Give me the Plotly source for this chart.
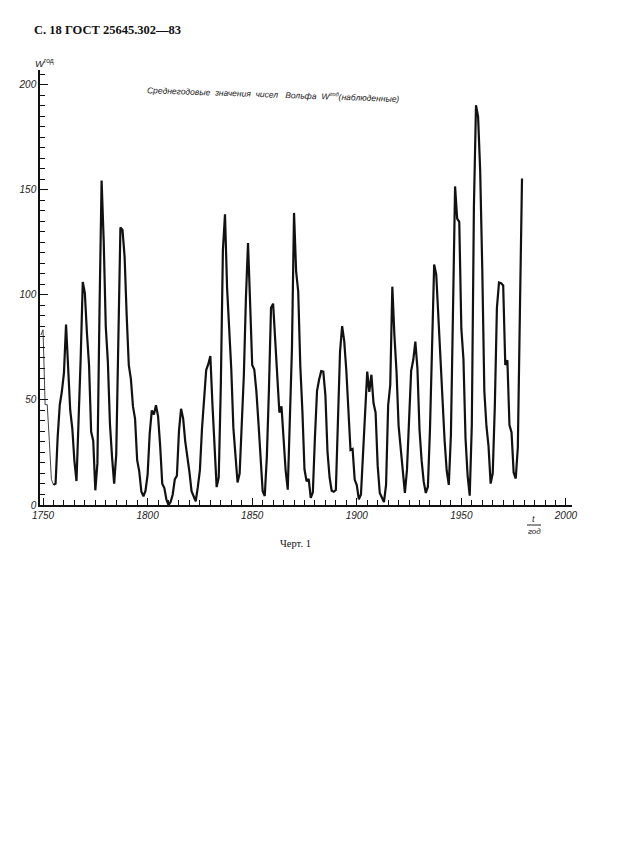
import plotly.graph_objects as go

start_year = 1749
wolf = [
    80.9, 83.4, 47.7, 47.8, 30.7, 12.2, 9.6, 10.2, 32.4, 47.6,   # 1749-1758
    54.0, 62.9, 85.9, 61.2, 45.1, 36.4, 20.9, 11.4, 37.8, 69.8,  # 1759-1768
    106.1, 100.8, 81.6, 66.5, 34.8, 30.6, 7.0, 19.8, 92.5, 154.4,  # 1769-1778
    125.9, 84.8, 68.1, 38.5, 22.8, 10.2, 24.1, 82.9, 132.0, 130.9,  # 1779-1788
    118.1, 89.9, 66.6, 60.0, 46.9, 41.0, 21.3, 16.0, 6.4, 4.1,   # 1789-1798
    6.8, 14.5, 34.0, 45.0, 43.1, 47.5, 42.2, 28.1, 10.1, 8.1,    # 1799-1808
    2.5, 0.0, 1.4, 5.0, 12.2, 13.9, 35.4, 45.8, 41.1, 30.1,      # 1809-1818
    23.9, 15.6, 6.6, 4.0, 1.8, 8.5, 16.6, 36.3, 49.6, 64.2,      # 1819-1828
    67.0, 70.9, 47.8, 27.5, 8.5, 13.2, 56.9, 121.5, 138.3, 103.2,  # 1829-1838
    85.7, 64.6, 36.7, 24.2, 10.7, 15.0, 40.1, 61.5, 98.5, 124.7,  # 1839-1848
    96.3, 66.6, 64.5, 54.1, 39.0, 20.6, 6.7, 4.3, 22.7, 54.8,    # 1849-1858
    93.8, 95.8, 77.2, 59.1, 44.0, 47.0, 30.5, 16.3, 7.3, 37.6,   # 1859-1868
    74.0, 139.0, 111.2, 101.6, 66.2, 44.7, 17.0, 11.3, 12.4, 3.4,  # 1869-1878
    6.0, 32.3, 54.3, 59.7, 63.7, 63.5, 52.2, 25.4, 13.1, 6.8,    # 1879-1888
    6.3, 7.1, 35.6, 73.0, 85.1, 78.0, 64.0, 41.8, 26.2, 26.7,    # 1889-1898
    12.1, 9.5, 2.7, 5.0, 24.4, 42.0, 63.5, 53.8, 62.0, 48.5,     # 1899-1908
    43.9, 18.6, 5.7, 3.6, 1.4, 9.6, 47.4, 57.1, 103.9, 80.6,     # 1909-1918
    63.6, 37.6, 26.1, 14.2, 5.8, 16.7, 44.3, 63.9, 69.0, 77.8,   # 1919-1928
    64.9, 35.7, 21.2, 11.1, 5.7, 8.7, 36.1, 79.7, 114.4, 109.6,  # 1929-1938
    88.8, 67.8, 47.5, 30.6, 16.3, 9.6, 33.2, 92.6, 151.6, 136.3,  # 1939-1948
    134.7, 83.9, 69.4, 31.5, 13.9, 4.4, 38.0, 141.7, 190.2, 184.8,  # 1949-1958
    159.0, 112.3, 53.9, 37.5, 27.9, 10.2, 15.1, 47.0, 93.8, 105.9,  # 1959-1968
    105.5, 104.5, 66.6, 68.9, 38.0, 34.5, 15.5, 12.6, 27.5, 92.5,  # 1969-1978
    155.4,                                                         # 1979
]
years = [start_year + i for i in range(len(wolf))]

x_tickvals = [1750, 1800, 1850, 1900, 1950, 2000]
x_ticktext = ["1750", "1800", "1850", "1900", "1950", "2000"]
y_tickvals = [0, 50, 100, 150, 200]
y_ticktext = ["0", "50", "100", "150", "200"]

OFF = 8                     # default body margin of the html page
W, H = 617 - OFF, 847 - OFF
L, PW = 32, 532
R = W - L - PW
T, PH = 62, 435
B = H - T - PH


def paper(xp, yp):
    """page pixel -> paper coords"""
    return (xp - OFF - L) / PW, (H - B - (yp - OFF)) / PH


fig = go.Figure()
# early, faintly drawn part
fig.add_trace(go.Scatter(x=years[:7], y=wolf[:7], mode="lines",
                         line=dict(color="#444", width=1), hoverinfo="skip"))
fig.add_trace(go.Scatter(x=years[6:], y=wolf[6:], mode="lines",
                         line=dict(color="#111", width=2.2), hoverinfo="skip"))

tickfont = dict(family="Liberation Sans", size=10, color="#222", style="italic")

fig.update_xaxes(range=[1748.55, 2002.9], showline=True, linecolor="#111", linewidth=1.5,
                 tickvals=x_tickvals, ticktext=x_ticktext, ticks="inside", ticklen=7,
                 tickwidth=1.2, tickcolor="#111", tickfont=tickfont, showgrid=False,
                 zeroline=False,
                 minor=dict(dtick=5, tick0=1750, ticks="inside", ticklen=5,
                            tickcolor="#111", tickwidth=1, showgrid=False))
fig.update_yaxes(range=[0, 207], showline=True, linecolor="#111", linewidth=1.5,
                 tickvals=y_tickvals, ticktext=y_ticktext, ticks="inside", ticklen=8,
                 tickwidth=1.2, tickcolor="#111", tickfont=tickfont, showgrid=False,
                 zeroline=False,
                 minor=dict(dtick=5, tick0=0, ticks="inside", ticklen=5,
                            tickcolor="#111", tickwidth=1, showgrid=False))

ann = []
x, y = paper(32, 30)
ann.append(dict(x=x, y=y, xref="paper", yref="paper", xanchor="left", yanchor="middle",
                text="<b>С. 18 ГОСТ 25645.302—83</b>", showarrow=False,
                font=dict(family="Liberation Serif", size=12.5, color="#111")))
x, y = paper(33, 63)
ann.append(dict(x=x, y=y, xref="paper", yref="paper", xanchor="left", yanchor="middle",
                text="<i>W</i><sup>год</sup>", showarrow=False,
                font=dict(family="Liberation Sans", size=9.5, color="#222")))
x, y = paper(145, 94)
ann.append(dict(x=x, y=y, xref="paper", yref="paper", xanchor="left", yanchor="middle",
                text="<i>Среднегодовые  значения  чисел   Вольфа  W<sup>год</sup>(наблюденные)</i>",
                showarrow=False, textangle=2,
                font=dict(family="Liberation Sans", size=8.5, color="#222")))
x, y = paper(533, 519)
ann.append(dict(x=x, y=y, xref="paper", yref="paper", xanchor="center", yanchor="middle",
                text="<i>t</i>", showarrow=False,
                font=dict(family="Liberation Sans", size=9, color="#222")))
x, y = paper(534, 531)
ann.append(dict(x=x, y=y, xref="paper", yref="paper", xanchor="center", yanchor="middle",
                text="<i>год</i>", showarrow=False,
                font=dict(family="Liberation Sans", size=8, color="#222")))
x, y = paper(295, 543)
ann.append(dict(x=x, y=y, xref="paper", yref="paper", xanchor="center", yanchor="middle",
                text="Черт. 1", showarrow=False,
                font=dict(family="Liberation Serif", size=10.5, color="#111")))

x0, y0 = paper(527, 525)
x1, _ = paper(541, 525)
shapes = [dict(type="line", xref="paper", yref="paper", x0=x0, x1=x1, y0=y0, y1=y0,
               line=dict(color="#222", width=1))]

fig.update_layout(width=W, height=H, autosize=False,
                  margin=dict(l=L, r=R, t=T, b=B, pad=0),
                  paper_bgcolor="white", plot_bgcolor="white",
                  showlegend=False, annotations=ann, shapes=shapes)

fig.write_html("out.html")
